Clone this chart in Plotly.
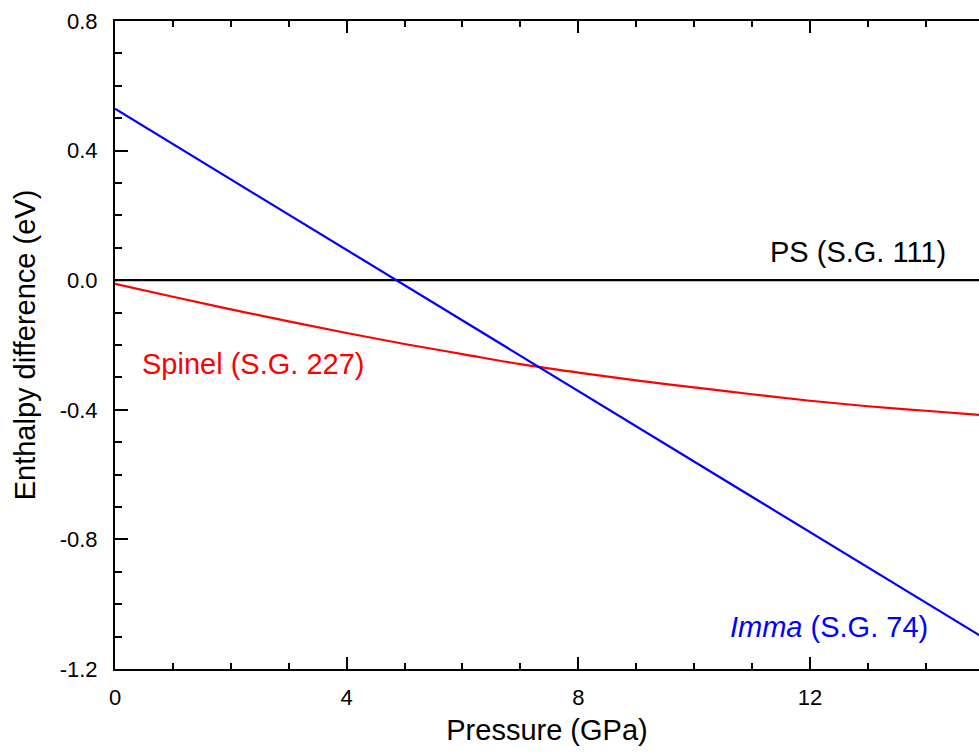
import plotly.graph_objects as go

# Data
pressure_ps = [0, 15]
enthalpy_ps = [0.0, 0.0]

pressure_spinel = [0, 1, 2, 3, 4, 5, 6, 7, 8, 9, 10, 11, 12, 13, 14, 15]
enthalpy_spinel = [-0.011, -0.051, -0.090, -0.127, -0.163, -0.197, -0.228, -0.259,
                   -0.285, -0.309, -0.331, -0.352, -0.372, -0.389, -0.403, -0.417]

pressure_imma = [0, 5, 10, 15]
enthalpy_imma = [0.529, -0.015, -0.560, -1.104]

x_tickvals = [0, 4, 8, 12]
x_ticktext = ["0", "4", "8", "12"]
y_tickvals = [-1.2, -0.8, -0.4, 0.0, 0.4, 0.8]
y_ticktext = ["-1.2", "-0.8", "-0.4", "0.0", "0.4", "0.8"]

FONT = "Liberation Sans, Arial, sans-serif"

fig = go.Figure()
fig.add_trace(go.Scatter(x=pressure_ps, y=enthalpy_ps, mode="lines",
                         line=dict(color="black", width=2.2), name="PS"))
fig.add_trace(go.Scatter(x=pressure_spinel, y=enthalpy_spinel, mode="lines",
                         line=dict(color="#ff0000", width=2.2, shape="spline"), name="Spinel"))
fig.add_trace(go.Scatter(x=pressure_imma, y=enthalpy_imma, mode="lines",
                         line=dict(color="#0000ff", width=2.2), name="Imma"))

fig.add_annotation(x=14.39, y=0.087, xref="x", yref="y", text="PS (S.G. 111)",
                   showarrow=False, xanchor="right", yanchor="middle",
                   font=dict(family=FONT, size=29, color="black"))
fig.add_annotation(x=0.43, y=-0.259, xref="x", yref="y", text="Spinel (S.G. 227)",
                   showarrow=False, xanchor="left", yanchor="middle",
                   font=dict(family=FONT, size=29, color="#ff0000"))
fig.add_annotation(x=14.08, y=-1.071, xref="x", yref="y", text="<i>Imma</i> (S.G. 74)",
                   showarrow=False, xanchor="right", yanchor="middle",
                   font=dict(family=FONT, size=29, color="#0000ff"))

fig.update_layout(
    width=979, height=754,
    margin=dict(l=115, r=0, t=21, b=85),
    paper_bgcolor="white", plot_bgcolor="white",
    showlegend=False,
    font=dict(family=FONT, color="black"),
    xaxis=dict(
        range=[0, 14.92], tickvals=x_tickvals, ticktext=x_ticktext,
        ticks="inside", ticklen=12, tickwidth=2, tickcolor="black",
        minor=dict(dtick=1, ticks="inside", ticklen=6, tickwidth=2, tickcolor="black"),
        showline=True, linewidth=2, linecolor="black", mirror="ticks",
        showgrid=False, zeroline=False,
        tickfont=dict(size=22, family=FONT),
        ticklabelstandoff=8,
        title=dict(text="Pressure (GPa)", font=dict(size=29, family=FONT), standoff=10),
    ),
    yaxis=dict(
        range=[-1.2, 0.8], tickvals=y_tickvals, ticktext=y_ticktext,
        ticks="inside", ticklen=13, tickwidth=2, tickcolor="black",
        minor=dict(dtick=0.1, tick0=0, ticks="inside", ticklen=7, tickwidth=2, tickcolor="black"),
        showline=True, linewidth=2, linecolor="black",
        showgrid=False, zeroline=False,
        tickfont=dict(size=22, family=FONT),
        ticklabelstandoff=11,
        title=dict(text="Enthalpy difference (eV)", font=dict(size=29, family=FONT), standoff=16),
    ),
    yaxis2=dict(
        overlaying="y", side="right", range=[-1.2, 0.8], tickvals=y_tickvals,
        showticklabels=False, ticks="inside", ticklen=9, tickwidth=2, tickcolor="black",
        minor=dict(dtick=0.1, tick0=0, ticks="inside", ticklen=2, tickwidth=2, tickcolor="black"),
        showline=False, showgrid=False, zeroline=False,
    ),
)

fig.write_html("out.html", config={"displayModeBar": False},
               post_script="document.body.style.margin='0';document.body.style.overflow='hidden';")
